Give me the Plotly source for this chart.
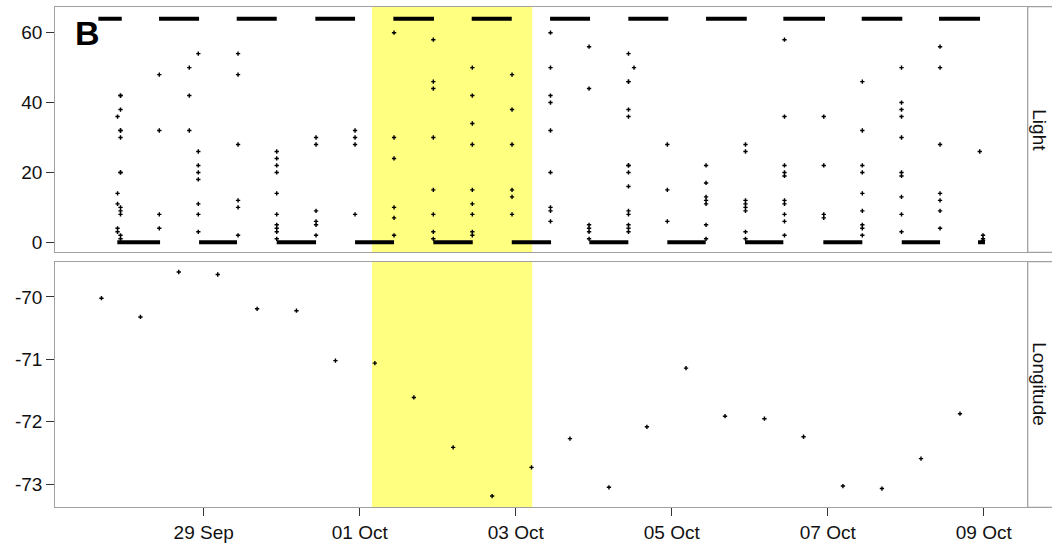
import plotly.graph_objects as go

W, H = 1052, 548

# ---------------- Light data ----------------
# saturated daytime readings (light = 64)
day_start = ["2015-09-27 15:35", "2015-09-28 10:15", "2015-09-29 10:09", "2015-09-30 10:21",
             "2015-10-01 10:21", "2015-10-02 10:28", "2015-10-03 10:34", "2015-10-04 10:39",
             "2015-10-05 10:34", "2015-10-06 10:21", "2015-10-07 10:28", "2015-10-08 10:15"]
day_end = ["2015-09-27 22:47", "2015-09-28 22:34", "2015-09-29 22:28", "2015-09-30 22:34",
           "2015-10-01 22:52", "2015-10-02 22:47", "2015-10-03 22:52", "2015-10-04 22:57",
           "2015-10-05 23:05", "2015-10-06 23:10", "2015-10-07 22:57", "2015-10-08 22:52"]
day_level = 64
# dark night-time readings (light = 0)
night_start = ["2015-09-27 21:25", "2015-09-28 22:34", "2015-09-29 22:28", "2015-09-30 22:34",
               "2015-10-01 22:39", "2015-10-02 22:47", "2015-10-03 22:39", "2015-10-04 22:39",
               "2015-10-05 22:34", "2015-10-06 22:39", "2015-10-07 22:47", "2015-10-08 22:15"]
night_end = ["2015-09-28 10:34", "2015-09-29 10:15", "2015-09-30 10:34", "2015-10-01 10:34",
             "2015-10-02 10:47", "2015-10-03 10:52", "2015-10-04 10:39", "2015-10-05 10:28",
             "2015-10-06 10:21", "2015-10-07 10:39", "2015-10-08 10:34", "2015-10-09 00:24"]
night_level = 0

# intermediate (twilight / shading) readings, grouped by time
tw_time = ["2015-09-27 21:29", "2015-09-27 22:24", "2015-09-28 10:20", "2015-09-28 19:34",
           "2015-09-28 22:20", "2015-09-29 10:34", "2015-09-29 22:28", "2015-09-30 10:34",
           "2015-09-30 22:34", "2015-10-01 10:34", "2015-10-01 22:39", "2015-10-02 10:39",
           "2015-10-02 22:52", "2015-10-03 10:42", "2015-10-03 22:34", "2015-10-04 10:42",
           "2015-10-04 12:24", "2015-10-04 22:39", "2015-10-05 10:34", "2015-10-05 22:42",
           "2015-10-06 10:42", "2015-10-06 22:47", "2015-10-07 10:39", "2015-10-07 22:42",
           "2015-10-08 10:34", "2015-10-08 22:47", "2015-10-08 23:47"]
tw_light = [
    [36, 14, 11, 4, 3],
    [42, 42, 38, 32, 32, 30, 20, 20, 10, 9, 8, 2, 1],
    [48, 32, 8, 4],
    [50, 42, 32],
    [54, 26, 22, 20, 18, 11, 8, 3],
    [54, 48, 28, 12, 10, 2],
    [26, 24, 22, 20, 14, 8, 5, 4, 3, 1],
    [30, 28, 9, 6, 5, 2],
    [32, 30, 28, 8],
    [60, 30, 24, 10, 7, 2],
    [58, 46, 44, 30, 15, 8, 3, 1],
    [50, 42, 34, 28, 15, 11, 8, 3, 2],
    [48, 38, 28, 15, 13, 8],
    [60, 50, 42, 40, 32, 20, 10, 9, 6],
    [56, 44, 5, 4, 3, 1],
    [54, 46, 46, 38, 36, 22, 22, 20, 16, 9, 8, 5, 4, 3],
    [50],
    [28, 15, 6],
    [22, 17, 13, 12, 11, 5, 1],
    [28, 26, 12, 11, 10, 9, 3, 1],
    [58, 36, 22, 20, 19, 12, 11, 8, 6, 2],
    [36, 22, 8, 7],
    [46, 32, 22, 20, 14, 9, 5, 4, 2],
    [50, 40, 38, 36, 30, 20, 19, 13, 8, 3],
    [56, 50, 28, 14, 12, 9, 4],
    [26],
    [2, 1, 0.5],
]

# ---------------- Longitude data ----------------
lon_time = ["2015-09-27 16:32", "2015-09-28 04:32", "2015-09-28 16:19", "2015-09-29 04:19",
            "2015-09-29 16:26", "2015-09-30 04:32", "2015-09-30 16:32", "2015-10-01 04:39",
            "2015-10-01 16:39", "2015-10-02 04:45", "2015-10-02 16:45", "2015-10-03 04:52",
            "2015-10-03 16:41", "2015-10-04 04:41", "2015-10-04 16:22", "2015-10-05 04:24",
            "2015-10-05 16:24", "2015-10-06 04:32", "2015-10-06 16:34", "2015-10-07 04:41",
            "2015-10-07 16:41", "2015-10-08 04:42", "2015-10-08 16:42"]
lon_value = [-70.02, -70.32, -69.60, -69.64, -70.19, -70.22, -71.02, -71.06, -71.61, -72.41,
             -73.19, -72.73, -72.27, -73.05, -72.08, -71.14, -71.91, -71.95, -72.24, -73.03,
             -73.07, -72.59, -71.87]

# highlighted period
band_start = "2015-10-01 03:48"
band_end = "2015-10-03 05:05"

# axis ticks
x_tickvals = ["2015-09-29", "2015-10-01", "2015-10-03", "2015-10-05", "2015-10-07", "2015-10-09"]
light_ticks = [0, 20, 40, 60]
lon_ticks = [-73, -72, -71, -70]
lon_ticktext = ["-73", "-72", "-71", "-70"]
x_range = ["2015-09-27 02:20", "2015-10-09 13:32"]
light_range = [-2.86, 67.44]
lon_range = [-73.37, -69.435]

# ---------------- build traces ----------------
def segs(starts, ends, level):
    xs, ys = [], []
    for s, e in zip(starts, ends):
        xs += [s, e, None]
        ys += [level, level, None]
    return xs, ys

FONT = "Liberation Sans, Arial, Helvetica, sans-serif"
fig = go.Figure()

dx, dy = segs(day_start, day_end, day_level)
nx, ny = segs(night_start, night_end, night_level)
fig.add_trace(go.Scatter(x=dx + nx, y=dy + ny, mode="lines",
                         line=dict(color="black", width=4), xaxis="x", yaxis="y",
                         hoverinfo="skip", showlegend=False))

px_, py_ = [], []
for t, vals in zip(tw_time, tw_light):
    for v in vals:
        px_.append(t)
        py_.append(v)
fig.add_trace(go.Scatter(x=px_, y=py_, mode="markers",
                         marker=dict(symbol="cross", size=3.6, color="black", line=dict(width=0)),
                         xaxis="x", yaxis="y", showlegend=False))

fig.add_trace(go.Scatter(x=lon_time, y=lon_value, mode="markers",
                         marker=dict(symbol="cross", size=3.6, color="black", line=dict(width=0)),
                         xaxis="x2", yaxis="y2", showlegend=False))

# ---------------- layout ----------------
xl, xr = 55.3 / W, 1027.7 / W
top_dom = [1 - 252.3 / H, 1 - 6.7 / H]
bot_dom = [1 - 507.3 / H, 1 - 261.7 / H]

frame = dict(showline=True, mirror=True, linecolor="#a0a0a0", linewidth=1.3,
             showgrid=False, zeroline=False)
tickfont = dict(family=FONT, size=19, color="#111111")

fig.update_layout(
    width=W, height=H, margin=dict(l=0, r=0, t=0, b=0),
    paper_bgcolor="white", plot_bgcolor="white",
    xaxis=dict(domain=[xl, xr], anchor="y", type="date", range=x_range,
               showticklabels=False, ticks="", **frame),
    xaxis2=dict(domain=[xl, xr], anchor="y2", type="date", range=x_range,
                tickvals=x_tickvals, tickformat="%d %b", ticks="outside", ticklen=8,
                tickcolor="#333333", tickwidth=1, tickfont=tickfont, **frame),
    yaxis=dict(domain=top_dom, anchor="x", range=light_range, tickvals=light_ticks,
               ticks="outside", ticklen=8, tickcolor="#333333", tickwidth=1,
               tickfont=tickfont, **frame),
    yaxis2=dict(domain=bot_dom, anchor="x2", range=lon_range, tickvals=lon_ticks,
                ticktext=lon_ticktext, ticks="outside", ticklen=8, tickcolor="#333333",
                tickwidth=1, tickfont=tickfont, **frame),
)

shapes = []
for yref in ["y domain", "y2 domain"]:
    shapes.append(dict(type="rect", xref="x", yref=yref, x0=band_start, x1=band_end,
                       y0=0, y1=1, fillcolor="#ffff80", line=dict(width=0), layer="below"))
for dom in [top_dom, bot_dom]:
    shapes.append(dict(type="rect", xref="paper", yref="paper", x0=xr, x1=1.02,
                       y0=dom[0], y1=dom[1], fillcolor="white",
                       line=dict(color="#a0a0a0", width=1.3), layer="above"))
fig.update_layout(shapes=shapes)

ann = [
    dict(text="<b>B</b>", x=73 / W, y=1 - 33 / H, xref="paper", yref="paper",
         xanchor="left", yanchor="middle", showarrow=False,
         font=dict(family=FONT, size=34, color="black")),
    dict(text="Light", x=1039.7 / W, y=1 - 130 / H, xref="paper", yref="paper",
         xanchor="center", yanchor="middle", showarrow=False, textangle=90,
         font=dict(family=FONT, size=19, color="#111111")),
    dict(text="Longitude", x=1039.7 / W, y=1 - 384 / H, xref="paper", yref="paper",
         xanchor="center", yanchor="middle", showarrow=False, textangle=90,
         font=dict(family=FONT, size=19, color="#111111")),
]
fig.update_layout(annotations=ann)

fig.write_html("out.html")
